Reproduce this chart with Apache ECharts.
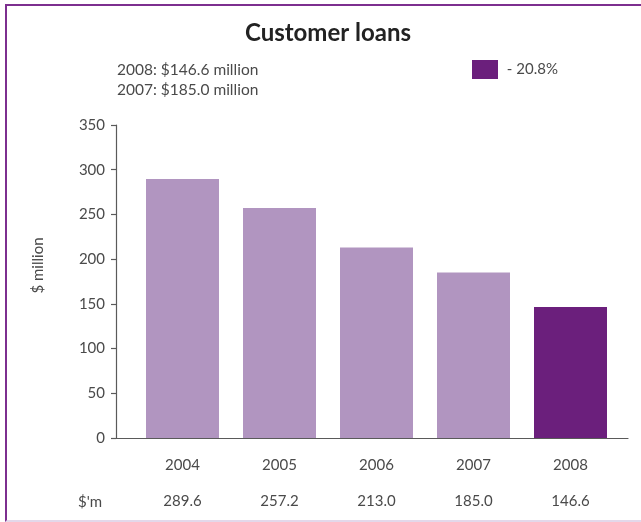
<!DOCTYPE html>
<html>
<head>
<meta charset="utf-8">
<script src="https://cdn.jsdelivr.net/npm/echarts@6/dist/echarts.min.js"></script>
<style>
  html, body { margin: 0; padding: 0; background: #fff; }
  #chart { width: 641px; height: 522px; }
  #frame {
    position: absolute; left: 5px; top: 4px; width: 640px; height: 514px;
    border-left: 2px solid #7d2f8f; border-top: 2px solid #7d2f8f;
    border-bottom: 2px solid #e3d8ea; pointer-events: none;
  }
</style>
</head>
<body>
<div id="chart"></div>
<div id="frame"></div>
<script>
// Customer loans by year, $ million
const years = ['2004', '2005', '2006', '2007', '2008'];
const loans = [289.6, 257.2, 213.0, 185.0, 146.6];
const valueLabels = ['289.6', '257.2', '213.0', '185.0', '146.6'];
const yTicks = [0, 50, 100, 150, 200, 250, 300, 350];
const changeLabel = '- 20.8%';
const summaryLines = ['2008: $146.6 million', '2007: $185.0 million'];
const latestIndex = years.length - 1;

const font = 'Lato, "Open Sans", sans-serif';
const textGrey = '#4a4a4a';
const axisGrey = '#5a5a5a';

const chart = echarts.init(document.getElementById('chart'), null, { renderer: 'canvas' });

const yMin = yTicks[0];
const yMax = yTicks[yTicks.length - 1];
const yStep = yTicks[1] - yTicks[0];

chart.setOption({
  animation: false,
  title: [
    {
      text: 'Customer loans',
      left: 328, top: 21, textAlign: 'center', padding: 0,
      textStyle: { fontFamily: font, fontWeight: 'bold', fontSize: 24, lineHeight: 24, color: '#222' }
    },
    {
      text: summaryLines.join('\n'),
      left: 117, top: 60, padding: 0,
      textStyle: { fontFamily: font, fontWeight: 'normal', fontSize: 15.5, color: textGrey, lineHeight: 20 }
    },
    {
      text: "$'m",
      left: 78, top: 494, padding: 0,
      textStyle: { fontFamily: font, fontWeight: 'normal', fontSize: 15, lineHeight: 16, color: textGrey }
    }
  ],
  legend: {
    left: 472, top: 60, padding: 0,
    itemWidth: 26, itemHeight: 19, itemGap: 8,
    icon: 'rect',
    data: [changeLabel],
    formatter: n => ' ' + n,
    textStyle: { fontFamily: font, fontSize: 15, color: textGrey },
    selectedMode: false
  },
  grid: [
    { left: 116, width: 512, top: 125, height: 313 },
    { left: 134, width: 485, top: 125, height: 313 }
  ],
  xAxis: [
    {
      gridIndex: 0, type: 'category', data: [''],
      axisLine: { show: true, lineStyle: { color: axisGrey, width: 1.2 } },
      axisTick: { show: false }, axisLabel: { show: false }
    },
    {
      gridIndex: 1, type: 'category', data: years,
      axisLine: { show: false }, axisTick: { show: false },
      axisLabel: {
        margin: 9,
        formatter: (v, i) => '{y|' + v + '}\n{v|' + valueLabels[i] + '}',
        rich: {
          y: { fontFamily: font, fontSize: 15, color: textGrey, lineHeight: 36 },
          v: { fontFamily: font, fontSize: 15, color: textGrey, lineHeight: 36 }
        }
      }
    }
  ],
  yAxis: [
    {
      gridIndex: 0, type: 'value', min: yMin, max: yMax, interval: yStep,
      name: '$ million', nameLocation: 'middle', nameGap: 70, nameRotate: 90,
      nameTextStyle: { fontFamily: font, fontSize: 15, color: textGrey, padding: [0, 0, 0, 32] },
      axisLine: { show: true, lineStyle: { color: axisGrey, width: 1.2 } },
      axisTick: { show: true, length: 5, lineStyle: { color: axisGrey, width: 1.2 } },
      axisLabel: { margin: 11, fontFamily: font, fontSize: 15, color: textGrey },
      splitLine: { show: false }
    },
    {
      gridIndex: 1, type: 'value', min: yMin, max: yMax, interval: yStep, show: false,
      splitLine: { show: false }
    }
  ],
  series: [
    {
      name: 'loans', type: 'bar', xAxisIndex: 1, yAxisIndex: 1, stack: 'loans',
      barWidth: 73,
      itemStyle: { color: '#b195c0' },
      data: loans.map((v, i) => (i === latestIndex ? null : v))
    },
    {
      name: changeLabel, type: 'bar', xAxisIndex: 1, yAxisIndex: 1, stack: 'loans',
      barWidth: 73,
      itemStyle: { color: '#6b1f7c' },
      data: loans.map((v, i) => (i === latestIndex ? v : null))
    }
  ]
});
</script>
</body>
</html>
